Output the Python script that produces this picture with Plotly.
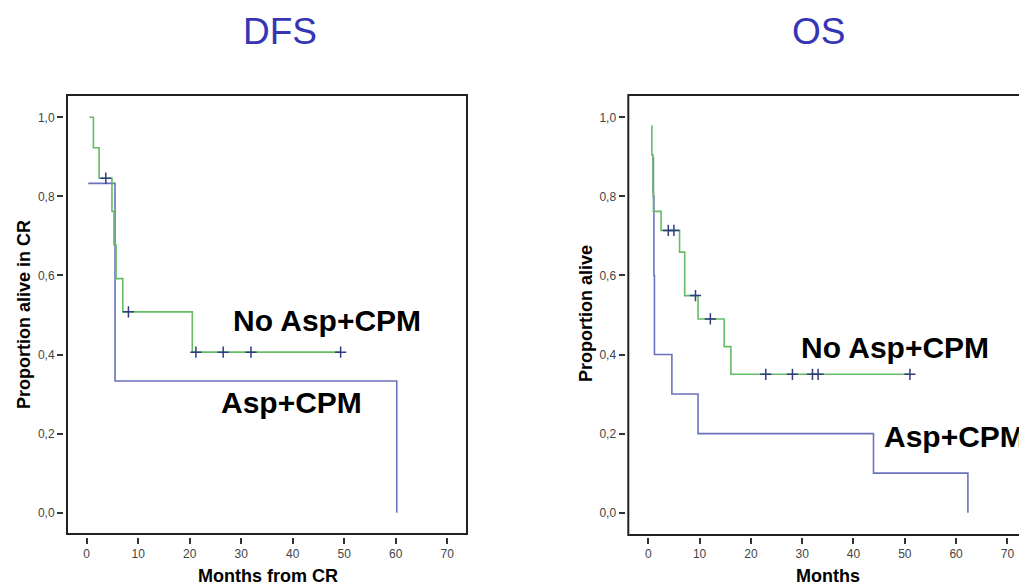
import plotly.graph_objects as go

# ---------------- data ----------------
x_ticks = [0, 10, 20, 30, 40, 50, 60, 70]
y_ticks = [0.0, 0.2, 0.4, 0.6, 0.8, 1.0]
y_tick_labels = ["0,0", "0,2", "0,4", "0,6", "0,8", "1,0"]

# DFS panel
dfs_no_t = [0.5, 1.3, 2.4, 4.9, 5.3, 5.7, 7.0, 20.5, 49.3]
dfs_no_s = [1.0, 0.923, 0.846, 0.762, 0.677, 0.592, 0.508, 0.406, 0.406]
dfs_no_cens_t = [3.7, 8.1, 21.2, 26.5, 31.9, 49.3]
dfs_no_cens_s = [0.846, 0.508, 0.406, 0.406, 0.406, 0.406]
dfs_asp_t = [0.3, 5.5, 60.2]
dfs_asp_s = [0.833, 0.333, 0.0]

# OS panel
os_no_t = [0.65, 0.7, 0.9, 1.0, 2.5, 6.1, 7.1, 9.7, 14.8, 16.1, 51.0]
os_no_s = [0.978, 0.905, 0.81, 0.762, 0.714, 0.659, 0.549, 0.49, 0.42, 0.35, 0.35]
os_no_cens_t = [3.9, 5.0, 9.2, 12.1, 22.9, 28.1, 32.0, 33.1, 51.0]
os_no_cens_s = [0.714, 0.714, 0.549, 0.49, 0.35, 0.35, 0.35, 0.35, 0.35]
os_asp_t = [1.0, 1.0, 1.1, 1.2, 4.6, 9.7, 43.9, 62.3]
os_asp_s = [0.9, 0.8, 0.6, 0.4, 0.3, 0.2, 0.1, 0.0]

# ---------------- layout helpers ----------------
W, H = 1019, 584
def px(x):
    return x / W
def py(y):
    return 1 - y / H

GREEN = "#66bb66"
BLUE = "#6b72bd"
CENS = "#2e3d80"
TITLE_BLUE = "#3535b5"
FONT = "Liberation Sans, Arial, sans-serif"

fig = go.Figure()

def add_panel(xa, ya, asp_t, asp_s, no_t, no_s, ct, cs):
    fig.add_trace(go.Scatter(x=asp_t, y=asp_s, mode="lines", line=dict(color=BLUE, width=1.6, shape="hv"),
                             xaxis=xa, yaxis=ya, showlegend=False, hoverinfo="skip"))
    fig.add_trace(go.Scatter(x=no_t, y=no_s, mode="lines", line=dict(color=GREEN, width=1.6, shape="hv"),
                             xaxis=xa, yaxis=ya, showlegend=False, hoverinfo="skip"))
    fig.add_trace(go.Scatter(x=ct, y=cs, mode="markers",
                             marker=dict(symbol="cross-thin", size=8, line=dict(color=CENS, width=1.5)),
                             xaxis=xa, yaxis=ya, showlegend=False, hoverinfo="skip"))

add_panel("x", "y", dfs_asp_t, dfs_asp_s, dfs_no_t, dfs_no_s, dfs_no_cens_t, dfs_no_cens_s)
add_panel("x2", "y2", os_asp_t, os_asp_s, os_no_t, os_no_s, os_no_cens_t, os_no_cens_s)

common_x = dict(tickvals=x_ticks, ticks="outside", ticklen=6, tickwidth=1.5, tickcolor="#333",
                showline=False, showgrid=False, zeroline=False,
                tickfont=dict(family=FONT, size=12, color="#444"))
common_y = dict(tickvals=y_ticks, ticktext=y_tick_labels, ticks="outside", ticklen=6, tickwidth=1.5,
                tickcolor="#333", showline=False, showgrid=False, zeroline=False,
                tickfont=dict(family=FONT, size=12, color="#444"))

ydom = [py(537), py(95)]
fig.update_layout(
    width=W, height=H,
    margin=dict(l=0, r=0, t=0, b=0),
    paper_bgcolor="white", plot_bgcolor="white",
    xaxis=dict(domain=[px(64), px(467)], range=[-4.41, 73.84], anchor="y", **common_x),
    yaxis=dict(domain=ydom, range=[-0.0615, 1.0564], anchor="x", **common_y),
    xaxis2=dict(domain=[px(625.5), 1.0], range=[-4.44, 72.26], anchor="y2", **common_x),
    yaxis2=dict(domain=ydom, range=[-0.0615, 1.0564], anchor="x2", **common_y),
)

# frames
fig.add_shape(type="rect", xref="paper", yref="paper", x0=px(67), x1=px(467), y0=py(534), y1=py(95),
              line=dict(color="#222", width=2), layer="above")
fig.add_shape(type="rect", xref="paper", yref="paper", x0=px(628.3), x1=px(1040), y0=py(535), y1=py(95),
              line=dict(color="#222", width=2), layer="above")

def ann(text, x, y, size, color="black", bold=True, angle=0, xanchor="center"):
    fig.add_annotation(text=("<b>%s</b>" % text) if bold else text, x=px(x), y=py(y), xref="paper", yref="paper",
                       showarrow=False, textangle=angle, xanchor=xanchor, yanchor="middle",
                       font=dict(family=FONT, size=size, color=color))

# titles
ann("DFS", 280, 31, 37, TITLE_BLUE, bold=False)
ann("OS", 818, 31, 37, TITLE_BLUE, bold=False)
# axis titles
ann("Proportion alive in CR", 24, 315, 18, angle=-90)
ann("Proportion alive", 586, 314, 18, angle=-90)
ann("Months from CR", 268, 576, 18)
ann("Months", 828, 576, 18)
# group labels
ann("No Asp+CPM", 326.5, 320, 30)
ann("Asp+CPM", 291, 402, 30)
ann("No Asp+CPM", 895, 347, 30)
ann("Asp+CPM", 881.7, 436, 30, xanchor="left")

fig.write_html(
    "out.html",
    config={"displayModeBar": False},
    post_script="document.body.style.margin='0';document.body.style.overflow='hidden';",
)
